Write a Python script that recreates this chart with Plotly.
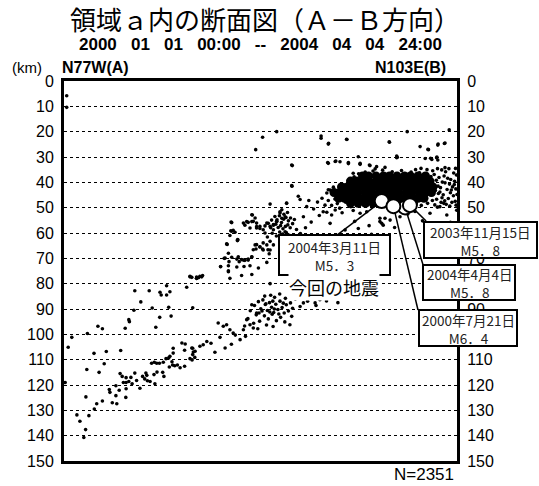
import plotly.graph_objects as go

# Hypocentres projected on the A-B section: (distance from A in km, depth in km)
shallow_pts = [(0.9, 5.8), (0.9, 10.4)]

upper_scatter = [
    (63.9, 27.1), (66.2, 22.2), (70.9, 20.0), (76.1, 33.4), (85.7, 21.7), (88.2, 24.6),
    (87.9, 32.2), (90.6, 31.6), (94.2, 23.0), (94.8, 32.2), (98.7, 32.5), (101.8, 33.2),
    (103.7, 34.7), (107.0, 34.1), (108.4, 24.0), (111.1, 30.1), (114.4, 20.0), (118.7, 25.9),
    (121.3, 27.0), (122.2, 30.5), (124.2, 30.3), (124.6, 31.2), (124.7, 24.9), (127.0, 24.5),
    (128.4, 19.3), (119.0, 34.5), (121.0, 35.0), (124.5, 34.6), (127.0, 34.2), (130.5, 34.5),
    (85.7, 22.6), (88.1, 24.9), (94.3, 23.1), (108.5, 24.2), (126.8, 24.7), (124.6, 25.3),
    (121.5, 27.1), (90.4, 31.8), (94.8, 32.6), (98.7, 32.9), (110.9, 30.3), (120.4, 30.6),
    (122.6, 31.0), (124.3, 30.0), (76.0, 41.5), (68.7, 48.6), (74.2, 48.3), (75.9, 33.2),
    (88.1, 32.5), (98.1, 29.9), (92.0, 31.9), (110.9, 29.6), (102.0, 33.4), (96.4, 36.4),
    (104.2, 33.8), (75.9, 41.3), (78.1, 45.5), (78.7, 46.8), (74.2, 48.2), (72.6, 50.8),
    (72.0, 52.1), (62.6, 52.8), (63.7, 54.1),
]

upper_band = [
    (55.7, 55.7), (56.4, 58.9), (55.9, 59.3), (59.8, 56.1), (61.4, 55.8), (63.1, 55.4),
    (64.2, 56.1), (62.0, 58.0), (64.2, 58.0), (65.3, 57.4), (66.4, 58.7), (67.6, 56.1),
    (68.7, 57.4), (69.8, 56.7), (70.9, 55.4), (67.0, 60.0), (67.8, 61.6), (68.7, 63.3),
    (64.2, 64.6), (65.3, 65.5), (66.2, 66.3), (66.4, 63.9), (63.1, 66.6), (64.0, 66.3),
    (68.0, 66.6), (68.4, 68.2), (62.8, 52.9), (60.9, 55.5), (60.3, 56.9), (62.6, 55.5),
    (55.9, 55.9), (55.6, 59.1), (57.0, 59.7), (64.2, 57.5), (65.3, 58.2), (67.0, 57.2),
    (68.1, 56.2), (69.2, 54.9), (69.8, 56.9), (70.9, 55.5), (72.6, 54.2), (72.0, 51.6),
    (73.7, 53.6), (63.7, 64.7), (65.3, 65.4), (66.4, 66.7), (67.6, 64.7), (68.7, 66.7),
    (69.8, 64.7), (54.4, 64.5), (54.8, 68.0), (55.0, 71.3), (55.9, 69.6), (57.8, 63.0),
    (58.1, 69.4), (59.8, 70.7), (61.4, 70.7), (62.6, 69.4), (52.2, 73.3), (53.4, 70.0),
    (54.8, 75.3), (42.0, 77.3), (44.2, 77.9), (45.9, 77.3), (73.7, 59.5), (74.2, 60.4),
    (73.1, 62.1), (70.3, 53.5), (71.0, 54.8), (71.8, 53.2), (72.5, 55.9), (73.2, 54.6),
    (74.0, 53.9), (74.8, 55.2), (75.5, 54.1), (70.6, 56.5), (71.4, 57.8), (72.2, 57.1),
    (73.0, 58.3), (73.8, 57.4), (74.6, 56.8), (75.4, 57.9), (76.2, 56.3), (71.9, 59.6),
    (72.9, 60.4), (74.1, 59.8), (75.1, 60.9), (69.8, 58.7), (68.9, 57.9), (69.4, 60.1),
    (70.8, 61.2), (76.8, 54.7), (77.5, 58.6), (74.5, 51.9), (73.3, 52.6),
    (44.2, 77.4), (45.3, 77.1), (46.2, 76.8), (42.6, 77.5), (55.3, 77.9), (59.2, 76.8),
    (62.6, 76.4), (64.8, 73.8), (67.6, 71.6), (68.7, 80.0), (54.2, 64.3), (57.9, 62.6),
    (53.7, 69.9), (52.2, 73.2), (54.8, 72.9), (54.8, 74.9), (57.6, 70.3), (58.4, 71.3),
    (59.2, 70.5), (60.3, 70.8), (61.4, 70.3), (62.6, 69.5), (62.0, 72.9), (60.0, 73.2),
    (57.6, 73.4),
    (42.0, 77.1), (44.2, 77.9), (44.9, 77.6), (40.9, 81.4), (23.6, 82.8), (28.4, 82.8),
    (34.2, 80.8), (35.3, 83.2), (32.0, 83.4), (32.4, 84.5), (34.2, 84.5), (25.6, 87.2),
    (23.3, 90.5), (29.4, 89.6), (34.9, 89.3), (42.9, 89.5), (21.6, 94.2), (21.8, 95.0),
    (31.9, 93.3), (35.7, 92.8), (20.4, 97.6), (30.6, 97.2), (11.3, 96.8), (12.8, 97.8),
    (7.8, 99.7), (2.6, 101.2), (1.4, 105.1),
]

mid_scatter = [
    (88.1, 42.9), (87.6, 44.2), (86.4, 51.6), (89.2, 52.9), (87.0, 49.0), (80.9, 49.6),
    (79.8, 53.6), (88.7, 56.2), (93.7, 58.8), (98.1, 58.2), (84.5, 47.8), (86.0, 46.3),
    (83.2, 50.5), (85.1, 53.1), (82.4, 55.7), (80.5, 57.9), (78.8, 60.2), (81.6, 47.2),
    (98.7, 52.2), (100.9, 51.6), (105.3, 54.2), (105.9, 56.2), (107.0, 54.2), (105.3, 55.5),
    (108.7, 54.9), (112.0, 53.6), (106.4, 56.9), (122.0, 52.2), (125.3, 49.6), (127.6, 52.9),
    (130.9, 51.0), (102.5, 60.5), (96.0, 61.8), (91.2, 63.5), (117.0, 51.5), (119.5, 55.2),
    (128.8, 55.8), (124.1, 57.3), (114.6, 52.5), (110.2, 57.8), (101.7, 57.1), (96.9, 55.4),
    (57.9, 62.8), (55.3, 61.0), (88.0, 66.5), (85.0, 69.0), (80.5, 68.0),
]

lower_band = [
    (63.5, 88.6), (64.8, 87.1), (65.6, 89.9), (66.3, 86.4), (67.1, 88.2), (67.8, 90.6),
    (68.5, 87.5), (69.2, 89.3), (69.9, 91.4), (70.6, 88.1), (71.3, 90.2), (72.0, 86.9),
    (72.7, 89.4), (73.4, 91.6), (74.1, 88.3), (74.8, 90.8), (75.5, 87.6), (76.2, 89.7),
    (66.8, 92.7), (68.1, 93.9), (69.4, 92.1), (70.8, 94.6), (72.2, 93.3), (73.6, 95.1),
    (65.2, 94.8), (64.1, 92.3), (63.2, 95.6), (67.5, 96.3), (70.2, 85.4), (71.9, 84.1),
    (73.8, 85.8), (68.9, 84.6), (66.9, 84.9), (75.9, 92.9), (77.1, 86.1), (62.1, 90.7),
    (61.3, 93.8), (60.2, 96.7), (64.6, 97.8), (69.7, 96.9), (66.0, 90.8), (68.6, 91.2),
    (70.1, 90.0), (71.6, 92.0), (67.3, 87.9), (69.6, 86.9), (73.1, 87.7), (65.0, 91.6),
    (79.2, 85.7), (83.7, 87.6), (85.3, 86.3), (84.0, 88.6), (87.5, 86.8), (91.3, 87.5),
    (78.7, 89.0), (79.8, 87.6), (81.2, 86.9), (75.3, 96.2),
    (51.4, 95.5), (53.1, 96.8), (54.2, 96.2), (55.3, 98.2), (56.4, 99.5), (58.7, 102.1),
    (59.8, 98.2), (47.6, 102.8), (46.4, 104.1), (45.3, 104.7), (50.3, 107.1), (53.7, 105.4),
    (42.6, 105.4), (43.7, 106.7), (42.9, 108.0), (62.6, 88.3), (64.2, 91.6), (60.9, 94.2),
    (62.0, 96.2), (63.1, 97.5), (57.1, 100.3), (49.0, 103.5), (52.0, 101.2), (55.8, 103.9),
    (60.5, 100.8),
    (10.0, 107.5), (14.1, 106.8), (18.9, 106.4), (13.4, 111.6), (11.7, 115.0), (7.6, 113.9),
    (0.4, 119.0), (7.3, 124.7), (4.3, 131.8), (5.3, 134.3), (7.2, 137.6), (6.6, 140.7),
    (8.3, 132.1), (10.1, 129.5), (10.9, 127.4), (12.8, 126.3), (15.1, 121.8), (15.3, 122.9),
    (16.1, 127.0), (17.6, 127.4), (17.3, 124.2), (18.4, 122.1), (17.3, 120.3), (18.7, 115.5),
    (19.4, 116.6), (20.7, 117.1), (22.3, 117.0), (19.8, 119.0), (20.7, 119.0), (21.6, 118.6),
    (20.7, 121.5), (20.6, 124.9), (22.7, 119.5), (23.6, 115.3), (24.2, 118.2), (25.3, 121.3),
    (26.2, 116.6), (26.9, 117.6), (27.3, 115.3), (27.6, 116.2), (27.8, 118.3), (28.7, 118.6),
    (30.0, 115.9), (31.0, 114.9), (30.3, 119.5), (32.9, 115.0), (33.3, 116.6), (29.2, 111.4),
    (30.1, 111.0), (30.9, 111.4), (31.8, 111.4), (33.1, 111.0), (34.0, 109.6), (34.9, 109.3),
    (35.3, 108.7), (36.4, 105.5), (36.4, 107.4), (35.1, 112.9), (36.2, 112.1), (36.0, 110.8),
    (36.9, 112.4), (37.8, 112.1), (38.7, 113.2), (40.2, 112.6), (40.2, 106.3), (39.3, 103.4),
    (40.4, 103.8), (42.0, 109.6), (42.7, 110.1), (43.6, 109.1), (42.9, 105.5), (43.1, 107.0),
]

# Edges and the less dense eastern part of the main cluster
cluster_edge = [
    (118.5, 36.2), (119.8, 38.1), (120.6, 40.4), (121.3, 42.7), (122.1, 44.9), (122.8, 47.2),
    (123.4, 36.9), (124.1, 39.2), (124.7, 41.5), (125.3, 43.8), (126.0, 46.1), (126.6, 48.3),
    (127.2, 35.8), (127.9, 38.4), (128.5, 40.7), (129.1, 43.0), (129.8, 45.3), (130.4, 47.5),
    (130.8, 37.1), (130.2, 39.6), (129.5, 41.8), (128.8, 44.1), (128.1, 46.4), (127.4, 48.7),
    (126.7, 37.5), (126.1, 39.9), (125.5, 42.1), (124.8, 44.4), (124.2, 46.7), (123.6, 48.9),
    (122.9, 35.4), (122.3, 37.7), (121.7, 40.0), (121.0, 42.3), (120.4, 44.6), (119.7, 46.8),
    (119.1, 49.1), (130.6, 42.6), (131.0, 44.8), (129.9, 36.3), (125.9, 35.1), (128.3, 34.6),
    (121.9, 39.1), (118.9, 41.2), (119.4, 43.5), (123.1, 41.1), (126.4, 44.9), (129.3, 47.9),
    (124.5, 49.8), (121.2, 48.3), (127.0, 40.2), (125.0, 38.1), (128.9, 38.9), (123.8, 43.2),
    (127.7, 42.8), (130.1, 40.9), (126.9, 47.3), (128.6, 49.4), (130.7, 49.0), (125.7, 47.9),
    (88.7, 43.0), (89.5, 44.8), (90.3, 46.6), (91.1, 48.4), (91.9, 50.2), (92.7, 52.0),
    (93.5, 41.1), (94.3, 42.9), (95.1, 44.7), (88.1, 47.2), (89.2, 49.1), (90.4, 50.9),
    (87.6, 51.8), (92.2, 45.5), (93.8, 47.8), (95.6, 49.6), (96.4, 51.1), (94.8, 39.3),
    (96.7, 37.8), (98.2, 36.6), (100.4, 35.9), (89.8, 41.9), (91.5, 43.4),
    (103.0, 35.5), (106.2, 35.2), (109.4, 35.8), (112.5, 35.3), (115.7, 35.9), (117.2, 35.0),
]

# Dense core of the main cluster, row by row (depth km -> distances km)
core_rows = {
    37.5: [99.5, 101.5, 104.0, 106.5, 108.5, 111.0, 113.5, 115.5, 118.0, 120.5],
    39.5: [95.5, 97.5, 99.5, 101.5, 104.0, 106.0, 108.5, 110.5, 113.0, 115.0, 117.5, 119.5, 122.0],
    41.8: [92.5, 94.5, 96.5, 98.5, 100.5, 103.0, 105.0, 107.5, 109.5, 112.0, 114.0, 116.5, 118.5,
           121.0, 123.0],
    44.0: [90.0, 92.0, 94.0, 96.0, 98.0, 100.5, 102.5, 105.0, 107.0, 109.5, 111.5, 114.0, 116.0,
           118.5, 120.5, 122.5],
    46.3: [91.5, 93.5, 96.0, 98.0, 100.0, 102.5, 104.5, 107.0, 109.0, 111.5, 113.5, 116.0, 118.0,
           120.0],
    48.3: [95.5, 98.0, 100.5, 103.0, 105.5, 108.0, 111.0, 113.0, 116.5],
}

# Notable events (white circles) and their label text
event_dates = ["2004年4月4日", "2004年3月11日", "2000年7月21日", "2003年11月15日"]
event_mags = ["M5．8", "M5．3", "M6．4", "M5．8"]
event_dist = [113.7, 105.9, 109.8, 115.3]
event_depth = [49.9, 47.4, 49.4, 49.0]

depth_ticks = list(range(0, 151, 10))
# right-hand labels that sit fully under the label boxes are left out
right_ticks = [v for v in depth_ticks if v not in (60, 80, 100)]
n_events = 2351

# Page geometry
W, H = 539, 486
L, R, T, B = 64, 82, 81, 25
pw, ph = W - L - R, H - T - B


def px(xp):
    return (xp - L) / pw


def py(yp):
    return (H - B - yp) / ph


# label boxes in page pixels: (left, right, top, bottom)
label_box = {
    "2004年3月11日": (279, 390, 235, 275),
    "2003年11月15日": (424, 537, 222, 258),
    "2004年4月4日": (423, 515, 265, 300),
    "2000年7月21日": (419, 517, 310, 346),
}
# leader-line end (distance, depth)
leader_end = {
    "2004年3月11日": (91.0, 60.8),
    "2003年11月15日": (120.7, 55.3),
    "2004年4月4日": (119.7, 72.6),
    "2000年7月21日": (118.0, 90.4),
}

NUM_FONT = "Liberation Sans, Arial, sans-serif"
JP_FONT = "Noto Sans CJK JP, sans-serif"

fig = go.Figure()

small = shallow_pts + upper_scatter + upper_band + mid_scatter + lower_band + cluster_edge
fig.add_trace(go.Scatter(
    x=[p[0] for p in small], y=[p[1] for p in small], mode="markers",
    marker=dict(size=3.6, color="black"), hoverinfo="skip",
))

core_x, core_y = [], []
for d, xs in core_rows.items():
    core_x += xs
    core_y += [d] * len(xs)
fig.add_trace(go.Scatter(
    x=core_x, y=core_y, mode="markers",
    marker=dict(size=9, color="black"), hoverinfo="skip",
))

# leader lines from the events to their label boxes
for dt, ex, ed in zip(event_dates, event_dist, event_depth):
    lx, ld = leader_end[dt]
    fig.add_trace(go.Scatter(
        x=[ex, lx], y=[ed, ld], mode="lines",
        line=dict(color="black", width=1.5), hoverinfo="skip",
    ))

fig.add_trace(go.Scatter(
    x=event_dist, y=event_depth, mode="markers",
    marker=dict(size=14, color="white", line=dict(color="black", width=2)),
    hoverinfo="skip",
))

# hidden trace to carry the right-hand depth axis
fig.add_trace(go.Scatter(x=[None], y=[None], yaxis="y2", showlegend=False))


def page_text(x, y, text, size, anchor="center", family=NUM_FONT, color="black"):
    fig.add_annotation(x=px(x), y=py(y), xref="paper", yref="paper", text=text,
                       xanchor=anchor, yanchor="middle", showarrow=False, align="center",
                       font=dict(family=family, size=size, color=color))


for dt, mg in zip(event_dates, event_mags):
    x0, x1, y0, y1 = label_box[dt]
    fig.add_shape(type="rect", xref="paper", yref="paper", layer="above",
                  x0=px(x0), x1=px(x1), y0=py(y1), y1=py(y0),
                  fillcolor="white", line=dict(color="black", width=2))
    page_text((x0 + x1) / 2, (y0 + y1) / 2 + 0.5, f"{dt}<br>{mg}", 13.5,
              family=JP_FONT, color="#222")

fig.add_annotation(
    x=90.0, y=81.3, xref="x", yref="y", text="今回の地震", showarrow=False,
    xanchor="center", yanchor="middle",
    font=dict(family=JP_FONT, size=18, color="black"), bgcolor="white", borderpad=0,
)

page_text(265, 18, "領域ａ内の断面図（Ａ－Ｂ方向）", 26, family=JP_FONT)
sp = "\u00a0" * 3
page_text(260, 45, f"<b>2000{sp}01{sp}01{sp}00:00{sp}--{sp}2004{sp}04{sp}04{sp}24:00</b>", 17)
page_text(10, 67, "(km)", 15, anchor="left")
page_text(60, 67, "<b>N77W(A)</b>", 16, anchor="left")
page_text(448, 67, "<b>N103E(B)</b>", 16, anchor="right")
page_text(456, 474, f"N={n_events}", 17, anchor="right")
page_text(2, 494, "b", 16, anchor="left")

yax = dict(
    range=[150, 0], showgrid=True, gridcolor="black", gridwidth=1, griddash="dot",
    zeroline=False, showline=True, linecolor="black", linewidth=3, ticks="",
    ticklabelstandoff=4, tickfont=dict(family=NUM_FONT, size=16, color="black"),
)

fig.update_layout(
    width=W, height=H, margin=dict(l=L, r=R, t=T, b=B),
    paper_bgcolor="white", plot_bgcolor="white", showlegend=False,
    xaxis=dict(range=[0, 131], showticklabels=False, showgrid=False, zeroline=False,
               showline=True, linecolor="black", linewidth=3, mirror=True, ticks=""),
    yaxis=dict(**yax, mirror=True, tickvals=depth_ticks,
               ticktext=[str(v) for v in depth_ticks]),
    yaxis2=dict(**{**yax, "showgrid": False}, overlaying="y", side="right", matches="y",
                tickvals=right_ticks, ticktext=[str(v) for v in right_ticks]),
)

fig.write_html("out.html")
